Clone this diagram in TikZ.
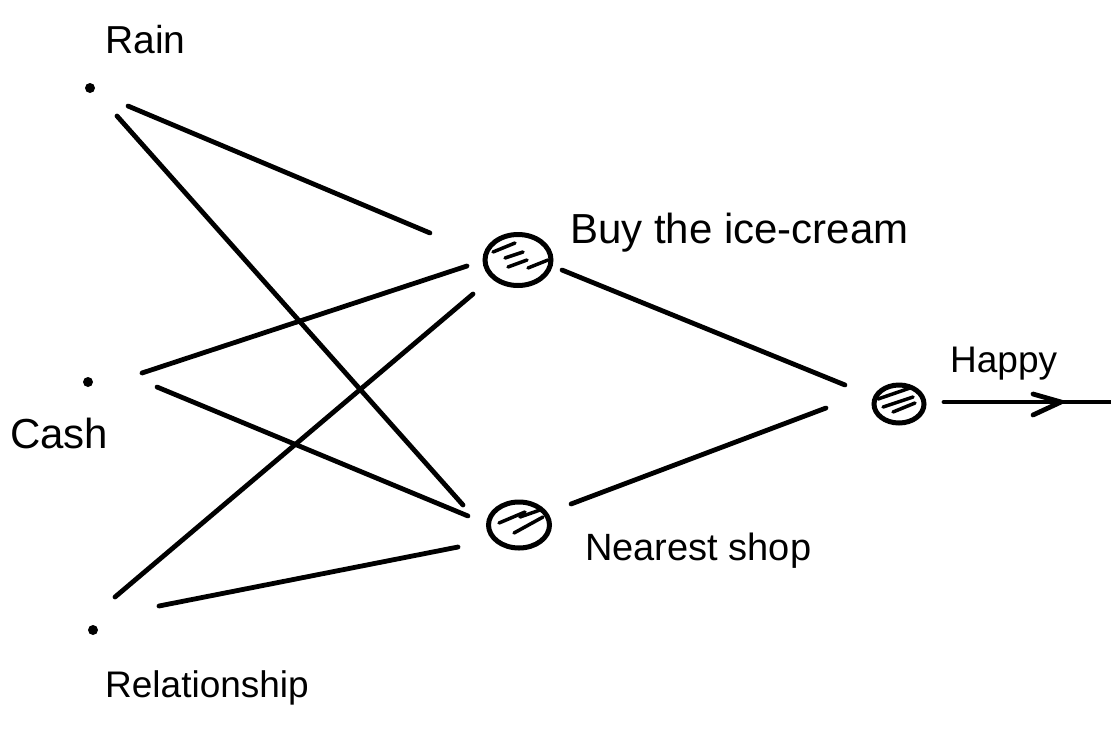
\documentclass[tikz,border=0pt]{standalone}
\usepackage{fontspec}
\setmainfont{Liberation Sans}
\usetikzlibrary{calc,shapes.geometric}
\begin{document}
\begin{tikzpicture}[x=1pt,y=-1pt,
  link/.style={line width=4.8pt, line cap=round},
  dotnode/.style={circle, fill=black, inner sep=0pt, minimum size=10pt},
  neuron/.style={ellipse, draw, line width=5pt, inner sep=0pt},
  hatch/.style={line width=3.5pt, line cap=round},
  lbl/.style={anchor=base west, inner sep=0pt}]
\useasboundingbox (0,0) rectangle (1111,729);
% input dots
\node[dotnode] (rain) at (90,88) {};
\node[dotnode] (cash) at (88,382) {};
\node[dotnode] (rel) at (93,630) {};
% neurons
\node[neuron, minimum width=66pt, minimum height=51pt] (n1) at (518,260) {};
\node[neuron, minimum width=61pt, minimum height=46pt] (n2) at (519,525) {};
\node[neuron, minimum width=50pt, minimum height=38pt] (out) at (899,404) {};
\coordinate (tip) at (1061,402);
\coordinate (end) at (1111,402);
% labels
\node[lbl, font=\fontsize{39}{39}\selectfont] (lrain) at (105,53) {Rain};
\node[lbl, font=\fontsize{42}{42}\selectfont] (lcash) at (10,448) {Cash};
\node[lbl, font=\fontsize{37}{37}\selectfont] (lrel) at (105,697) {Relationship};
\node[lbl, font=\fontsize{42}{42}\selectfont] (ln1) at (570,243) {Buy the ice-cream};
\node[lbl, font=\fontsize{38}{38}\selectfont] (ln2) at (585,560) {Nearest shop};
\node[lbl, font=\fontsize{37}{37}\selectfont] (lout) at (950,372) {Happy};
% connectors
\draw[link] ($(rain)+(38,18)$) -- ($(n1)+(-88,-27)$);
\draw[link] ($(rain)+(27,28)$) -- ($(n2)+(-56,-20)$);
\draw[link] ($(cash)+(54,-9)$) -- ($(n1)+(-51,6)$);
\draw[link] ($(cash)+(69,5)$) -- ($(n2)+(-51,-9)$);
\draw[link] ($(rel)+(22,-33)$) -- ($(n1)+(-45,34)$);
\draw[link] ($(rel)+(66,-24)$) -- ($(n2)+(-61,22)$);
\draw[link] ($(n1)+(44,10)$) -- ($(out)+(-54,-19)$);
\draw[link] ($(n2)+(52,-21)$) -- ($(out)+(-73,4)$);
\draw[link] ($(out)+(45,-2)$) -- (end);
\draw[link] ($(tip)+(-28,-8)$) -- (tip) -- ($(tip)+(-28,13)$);
% hatching
\draw[hatch] ($(n1)+(-25,-8)$) -- ($(n1)+(-3,-17)$);
\draw[hatch] ($(n1)+(-13,-2)$) -- ($(n1)+(5,-8)$);
\draw[hatch] ($(n1)+(-10,7)$) -- ($(n1)+(9,0)$);
\draw[hatch] ($(n1)+(10,8)$) -- ($(n1)+(30,0)$);
\draw[hatch] ($(n2)+(-20,-2)$) -- ($(n2)+(6,-13)$);
\draw[hatch] ($(n2)+(1,-8)$) -- ($(n2)+(21,-15)$);
\draw[hatch] ($(n2)+(-5,8)$) -- ($(n2)+(24,-8)$);
\draw[hatch] ($(out)+(-21,-5)$) -- ($(out)+(11,-16)$);
\draw[hatch] ($(out)+(-16,3)$) -- ($(out)+(14,-7)$);
\draw[hatch] ($(out)+(-6,8)$) -- ($(out)+(16,-1)$);
\end{tikzpicture}
\end{document}
